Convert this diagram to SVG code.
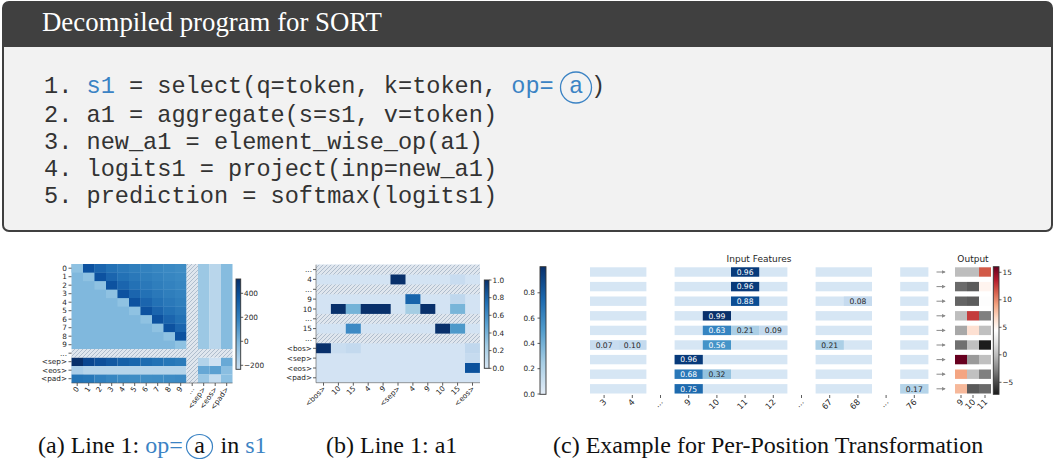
<svg xmlns="http://www.w3.org/2000/svg" width="1055" height="461" viewBox="0 0 1055 461">
<style>
.code{font-family:"Liberation Mono","DejaVu Sans Mono",monospace;font-size:23.6px;fill:#333333;white-space:pre}
.blue{fill:#3b83c4}
.cap{font-family:"Liberation Serif","Times New Roman",serif;font-size:24px;fill:#111111;white-space:pre}
.tk{font-family:"DejaVu Sans",sans-serif;font-size:7.3px;fill:#262626}
.tkc{font-family:"DejaVu Sans",sans-serif;font-size:8.3px;fill:#262626}
.tt{font-family:"DejaVu Sans",sans-serif;font-size:9px;fill:#262626}
.val{font-family:"DejaVu Sans",sans-serif;font-size:7.6px;text-anchor:middle}
.vw{fill:#ffffff}
.vd{fill:#262626}
.tick{stroke:#333333;stroke-width:0.8}
.d1{fill:#0d52a0}.d2{fill:#1b65ae}.d3{fill:#2371b5}.d4{fill:#2a78b9}.d5{fill:#2f7ebc}.d6{fill:#3382bf}.d7{fill:#3786c1}.d8{fill:#3a89c3}.d9{fill:#3e8cc4}
.dg{fill:#8fc2e2}
.base-c{fill:#d6e6f4}
.cbo{fill:none;stroke:#333333;stroke-width:0.9}
</style>
<defs>
<pattern id="hatch" patternUnits="userSpaceOnUse" width="4" height="4">
<rect width="4" height="4" fill="#dfe6ee"/>
<path d="M-1,1 L1,-1 M0,4 L4,0 M3,5 L5,3" stroke="#a3b3c4" stroke-width="0.8"/>
</pattern>
<linearGradient id="gBluesA" x1="0" y1="0" x2="0" y2="1">
<stop offset="0" stop-color="#08306b"/><stop offset="0.2" stop-color="#0b559f"/><stop offset="0.45" stop-color="#3584c1"/><stop offset="0.7" stop-color="#7fb8dd"/><stop offset="1" stop-color="#cadef0"/>
</linearGradient>
<linearGradient id="gBluesB" x1="0" y1="0" x2="0" y2="1">
<stop offset="0" stop-color="#08306b"/><stop offset="0.25" stop-color="#1f6eb3"/><stop offset="0.5" stop-color="#5ba2d1"/><stop offset="0.75" stop-color="#a5cde4"/><stop offset="1" stop-color="#d6e5f3"/>
</linearGradient>
<linearGradient id="gBluesC" x1="0" y1="0" x2="0" y2="1">
<stop offset="0" stop-color="#08306b"/><stop offset="0.25" stop-color="#1b68ae"/><stop offset="0.5" stop-color="#529dcc"/><stop offset="0.75" stop-color="#a6cde4"/><stop offset="1" stop-color="#e4edf7"/>
</linearGradient>
<linearGradient id="gRdGy" x1="0" y1="0" x2="0" y2="1">
<stop offset="0" stop-color="#67001f"/><stop offset="0.1" stop-color="#b2182b"/><stop offset="0.2" stop-color="#d6604d"/><stop offset="0.3" stop-color="#f4a582"/><stop offset="0.4" stop-color="#fddbc7"/><stop offset="0.5" stop-color="#ffffff"/><stop offset="0.6" stop-color="#e0e0e0"/><stop offset="0.7" stop-color="#bababa"/><stop offset="0.8" stop-color="#878787"/><stop offset="0.9" stop-color="#4d4d4d"/><stop offset="1" stop-color="#1a1a1a"/>
</linearGradient>
<marker id="arr" viewBox="0 0 6 6" refX="5" refY="3" markerWidth="4" markerHeight="4" orient="auto">
<path d="M0,0 L6,3 L0,6 z" fill="#8a8a8a"/>
</marker>
</defs>
<rect width="1055" height="461" fill="#ffffff"/>

<g id="code-box">
<rect x="3" y="2" width="1049" height="229" rx="6" fill="#f2f2f2" stroke="#404040" stroke-width="2"/>
<path d="M3,47 L3,8 Q3,2 9,2 L1046,2 Q1052,2 1052,8 L1052,47 Z" fill="#404040"/>
<text x="42" y="31" font-family="'Liberation Serif','Times New Roman',serif" font-size="26.8" fill="#ffffff">Decompiled program for SORT</text>
<text class="code" x="44" y="93">1. <tspan class="blue">s1</tspan> = select(q=token, k=token, <tspan class="blue">op=</tspan></text>
<text class="code blue" x="576" y="93" text-anchor="middle">a</text>
<circle cx="576" cy="87.5" r="15.5" fill="none" stroke="#3b83c4" stroke-width="1.3"/>
<text class="code" x="591" y="93">)</text>
<text class="code" x="44" y="121.5">2. a1 = aggregate(s=s1, v=token)</text>
<text class="code" x="44" y="148.5">3. new_a1 = element_wise_op(a1)</text>
<text class="code" x="44" y="175.5">4. logits1 = project(inp=new_a1)</text>
<text class="code" x="44" y="202.5">5. prediction = softmax(logits1)</text>
</g>

<g id="panel-a">
<rect x="71.5" y="264" width="115" height="85" fill="#80b8dd"/>
<g class="dg">
<rect x="71.5" y="264" width="11.6" height="8.6"/><rect x="83" y="272.5" width="11.6" height="8.6"/><rect x="94.5" y="281" width="11.6" height="8.6"/><rect x="106" y="289.5" width="11.6" height="8.6"/><rect x="117.5" y="298" width="11.6" height="8.6"/><rect x="129" y="306.5" width="11.6" height="8.6"/><rect x="140.5" y="315" width="11.6" height="8.6"/><rect x="152" y="323.5" width="11.6" height="8.6"/><rect x="163.5" y="332" width="11.6" height="8.6"/><rect x="175" y="340.5" width="11.5" height="8.5"/>
</g>
<rect class="d1" x="83" y="264" width="11.6" height="8.6"/><rect class="d2" x="94.5" y="264" width="11.6" height="8.6"/><rect class="d3" x="106" y="264" width="11.6" height="8.6"/><rect class="d4" x="117.5" y="264" width="11.6" height="8.6"/><rect class="d5" x="129" y="264" width="11.6" height="8.6"/><rect class="d6" x="140.5" y="264" width="11.6" height="8.6"/><rect class="d7" x="152" y="264" width="11.6" height="8.6"/><rect class="d8" x="163.5" y="264" width="11.6" height="8.6"/><rect class="d9" x="175" y="264" width="11.5" height="8.6"/>
<rect class="d1" x="94.5" y="272.5" width="11.6" height="8.6"/><rect class="d2" x="106" y="272.5" width="11.6" height="8.6"/><rect class="d3" x="117.5" y="272.5" width="11.6" height="8.6"/><rect class="d4" x="129" y="272.5" width="11.6" height="8.6"/><rect class="d5" x="140.5" y="272.5" width="11.6" height="8.6"/><rect class="d6" x="152" y="272.5" width="11.6" height="8.6"/><rect class="d7" x="163.5" y="272.5" width="11.6" height="8.6"/><rect class="d8" x="175" y="272.5" width="11.5" height="8.6"/>
<rect class="d1" x="106" y="281" width="11.6" height="8.6"/><rect class="d2" x="117.5" y="281" width="11.6" height="8.6"/><rect class="d3" x="129" y="281" width="11.6" height="8.6"/><rect class="d4" x="140.5" y="281" width="11.6" height="8.6"/><rect class="d5" x="152" y="281" width="11.6" height="8.6"/><rect class="d6" x="163.5" y="281" width="11.6" height="8.6"/><rect class="d7" x="175" y="281" width="11.5" height="8.6"/>
<rect class="d1" x="117.5" y="289.5" width="11.6" height="8.6"/><rect class="d2" x="129" y="289.5" width="11.6" height="8.6"/><rect class="d3" x="140.5" y="289.5" width="11.6" height="8.6"/><rect class="d4" x="152" y="289.5" width="11.6" height="8.6"/><rect class="d5" x="163.5" y="289.5" width="11.6" height="8.6"/><rect class="d6" x="175" y="289.5" width="11.5" height="8.6"/>
<rect class="d1" x="129" y="298" width="11.6" height="8.6"/><rect class="d2" x="140.5" y="298" width="11.6" height="8.6"/><rect class="d3" x="152" y="298" width="11.6" height="8.6"/><rect class="d4" x="163.5" y="298" width="11.6" height="8.6"/><rect class="d5" x="175" y="298" width="11.5" height="8.6"/>
<rect class="d1" x="140.5" y="306.5" width="11.6" height="8.6"/><rect class="d2" x="152" y="306.5" width="11.6" height="8.6"/><rect class="d3" x="163.5" y="306.5" width="11.6" height="8.6"/><rect class="d4" x="175" y="306.5" width="11.5" height="8.6"/>
<rect class="d1" x="152" y="315" width="11.6" height="8.6"/><rect class="d2" x="163.5" y="315" width="11.6" height="8.6"/><rect class="d3" x="175" y="315" width="11.5" height="8.6"/>
<rect class="d1" x="163.5" y="323.5" width="11.6" height="8.6"/><rect class="d2" x="175" y="323.5" width="11.5" height="8.6"/>
<rect class="d1" x="175" y="332" width="11.5" height="8.6"/>
<rect x="198" y="264" width="11.6" height="85" fill="#9cc8e4"/>
<rect x="209.5" y="264" width="11.6" height="85" fill="#b9d6eb"/>
<rect x="221" y="264" width="11.5" height="85" fill="#86bcdf"/>
<rect x="71.5" y="357.5" width="11.6" height="8.6" fill="#08306b"/><rect x="83" y="357.5" width="11.6" height="8.6" fill="#0a4690"/><rect x="94.5" y="357.5" width="11.6" height="8.6" fill="#0d4f9a"/><rect x="106" y="357.5" width="11.6" height="8.6" fill="#1158a2"/><rect x="117.5" y="357.5" width="11.6" height="8.6" fill="#1560a8"/><rect x="129" y="357.5" width="11.6" height="8.6" fill="#1966ad"/><rect x="140.5" y="357.5" width="11.6" height="8.6" fill="#1d6cb1"/><rect x="152" y="357.5" width="11.6" height="8.6" fill="#2272b5"/><rect x="163.5" y="357.5" width="11.6" height="8.6" fill="#2677b8"/><rect x="175" y="357.5" width="11.5" height="8.6" fill="#2b7bba"/>
<rect x="198" y="357.5" width="11.6" height="8.6" fill="#b3d3ea"/><rect x="209.5" y="357.5" width="11.6" height="8.6" fill="#cfe1f2"/><rect x="221" y="357.5" width="11.5" height="8.6" fill="#68a9d6"/>
<rect x="71.5" y="366" width="115" height="8.6" fill="#b5d4ea"/><rect x="71.5" y="366" width="11.6" height="8.6" fill="#a9cde8"/>
<rect x="198" y="366" width="11.6" height="8.6" fill="#66a7d5"/><rect x="209.5" y="366" width="11.6" height="8.6" fill="#5ba0d1"/><rect x="221" y="366" width="11.5" height="8.6" fill="#8abee1"/>
<rect x="71.5" y="374.5" width="11.6" height="8.5" fill="#2474b6"/><rect x="83" y="374.5" width="11.6" height="8.5" fill="#2677b8"/><rect x="94.5" y="374.5" width="11.6" height="8.5" fill="#3080be"/><rect x="106" y="374.5" width="11.6" height="8.5" fill="#3786c1"/><rect x="117.5" y="374.5" width="11.6" height="8.5" fill="#3c8bc4"/><rect x="129" y="374.5" width="11.6" height="8.5" fill="#3e8cc4"/><rect x="140.5" y="374.5" width="11.6" height="8.5" fill="#408ec5"/><rect x="152" y="374.5" width="11.6" height="8.5" fill="#3f8dc5"/><rect x="163.5" y="374.5" width="11.6" height="8.5" fill="#3d8bc4"/><rect x="175" y="374.5" width="11.5" height="8.5" fill="#3b89c3"/>
<rect x="198" y="374.5" width="11.6" height="8.5" fill="#9bc7e4"/><rect x="209.5" y="374.5" width="11.6" height="8.5" fill="#c4dcef"/><rect x="221" y="374.5" width="11.5" height="8.5" fill="#8cc0e2"/>
<rect x="186.5" y="264" width="11.5" height="119" fill="url(#hatch)"/>
<rect x="71.5" y="349" width="161" height="8.5" fill="url(#hatch)"/>
<path d="M71.5,383 H232.5" stroke="#555555" stroke-width="0.6"/>
<g class="tick">
<path d="M68.5,268.2H71.5M68.5,276.7H71.5M68.5,285.2H71.5M68.5,293.7H71.5M68.5,302.2H71.5M68.5,310.7H71.5M68.5,319.2H71.5M68.5,327.7H71.5M68.5,336.2H71.5M68.5,344.7H71.5M68.5,353.2H71.5M68.5,361.7H71.5M68.5,370.2H71.5M68.5,378.7H71.5"/>
<path d="M77.2,383V386M88.7,383V386M100.2,383V386M111.7,383V386M123.2,383V386M134.7,383V386M146.2,383V386M157.7,383V386M169.2,383V386M180.7,383V386M192.2,383V386M203.7,383V386M215.2,383V386M226.7,383V386"/>
</g>
<g class="tk" text-anchor="end">
<text x="67" y="270.8">0</text><text x="67" y="279.3">1</text><text x="67" y="287.8">2</text><text x="67" y="296.3">3</text><text x="67" y="304.8">4</text><text x="67" y="313.3">5</text><text x="67" y="321.8">6</text><text x="67" y="330.3">7</text><text x="67" y="338.8">8</text><text x="67" y="347.3">9</text><text x="67" y="355.8">...</text><text x="67" y="364.3">&lt;sep&gt;</text><text x="67" y="372.8">&lt;eos&gt;</text><text x="67" y="381.3">&lt;pad&gt;</text>
</g>
<g class="tk" text-anchor="end" font-size="6.3">
<text transform="translate(79.5,389) rotate(-55)">0</text><text transform="translate(91,389) rotate(-55)">1</text><text transform="translate(102.5,389) rotate(-55)">2</text><text transform="translate(114,389) rotate(-55)">3</text><text transform="translate(125.5,389) rotate(-55)">4</text><text transform="translate(137,389) rotate(-55)">5</text><text transform="translate(148.5,389) rotate(-55)">6</text><text transform="translate(160,389) rotate(-55)">7</text><text transform="translate(171.5,389) rotate(-55)">8</text><text transform="translate(183,389) rotate(-55)">9</text><text transform="translate(194.5,389) rotate(-55)">...</text><text transform="translate(206,389) rotate(-55)">&lt;sep&gt;</text><text transform="translate(217.5,389) rotate(-55)">&lt;eos&gt;</text><text transform="translate(229,389) rotate(-55)">&lt;pad&gt;</text>
</g>
<rect x="236" y="279" width="4.7" height="90.3" fill="url(#gBluesA)"/>
<rect class="cbo" x="236" y="279" width="4.7" height="90.3"/>
<path class="tick" d="M240.7,293.3h2.5M240.7,317.3h2.5M240.7,341.3h2.5M240.7,365.3h2.5"/>
<g class="tk"><text x="244" y="295.9">400</text><text x="244" y="319.9">200</text><text x="244" y="343.9">0</text><text x="244" y="367.9">−200</text></g>
</g>

<g id="panel-b">
<rect x="316" y="264.7" width="164" height="118" fill="#d3e3f3"/>
<rect x="316" y="264.7" width="164" height="9.9" fill="url(#hatch)"/>
<rect x="316" y="284.4" width="164" height="9.9" fill="url(#hatch)"/>
<rect x="316" y="313.9" width="164" height="9.9" fill="url(#hatch)"/>
<rect x="316" y="333.5" width="164" height="9.9" fill="url(#hatch)"/>
<rect x="390.5" y="274.5" width="15" height="9.9" fill="#08306b"/>
<rect x="450.1" y="274.5" width="15" height="9.9" fill="#c8dcf0"/>
<rect x="405.4" y="294.2" width="15" height="9.9" fill="#1764ab"/>
<rect x="450.1" y="294.2" width="15" height="9.9" fill="#bfd7ed"/>
<rect x="330.9" y="304" width="15" height="9.9" fill="#08306b"/>
<rect x="345.8" y="304" width="15" height="9.9" fill="#74b3d8"/>
<rect x="360.7" y="304" width="30" height="9.9" fill="#08306b"/>
<rect x="405.4" y="304" width="15" height="9.9" fill="#a5cde3"/>
<rect x="420.3" y="304" width="15" height="9.9" fill="#08306b"/>
<rect x="450.1" y="304" width="15" height="9.9" fill="#78b5d9"/>
<rect x="345.8" y="323.7" width="15" height="9.9" fill="#3c89c4"/>
<rect x="435.2" y="323.7" width="15" height="9.9" fill="#08306b"/>
<rect x="450.1" y="323.7" width="15" height="9.9" fill="#4d99ca"/>
<rect x="316" y="343.3" width="15" height="9.9" fill="#08306b"/>
<rect x="330.9" y="343.3" width="15" height="9.9" fill="#c9ddf0"/>
<rect x="345.8" y="343.3" width="15" height="9.9" fill="#c3d9ee"/>
<rect x="465" y="343.3" width="14.9" height="9.9" fill="#c0d7ed"/>
<rect x="465" y="353.2" width="14.9" height="9.9" fill="#c6dbef"/>
<rect x="465" y="363" width="14.9" height="9.9" fill="#0b519c"/>
<path d="M316,264.7V382.7H480" fill="none" stroke="#555555" stroke-width="0.6"/>
<g class="tick">
<path d="M313,269.6H316M313,279.4H316M313,289.3H316M313,299.1H316M313,309H316M313,318.8H316M313,328.6H316M313,338.4H316M313,348.3H316M313,358.1H316M313,368H316M313,377.8H316"/>
<path d="M323.5,382.7V385.7M338.4,382.7V385.7M353.3,382.7V385.7M368.2,382.7V385.7M383.1,382.7V385.7M398,382.7V385.7M412.9,382.7V385.7M427.8,382.7V385.7M442.7,382.7V385.7M457.6,382.7V385.7M472.5,382.7V385.7"/>
</g>
<g class="tk" text-anchor="end">
<text x="312" y="272.2">...</text><text x="312" y="282">4</text><text x="312" y="291.9">...</text><text x="312" y="301.7">9</text><text x="312" y="311.6">10</text><text x="312" y="321.4">...</text><text x="312" y="331.2">15</text><text x="312" y="341">...</text><text x="312" y="350.9">&lt;bos&gt;</text><text x="312" y="360.7">&lt;sep&gt;</text><text x="312" y="370.6">&lt;eos&gt;</text><text x="312" y="380.4">&lt;pad&gt;</text>
</g>
<g class="tk" text-anchor="end">
<text transform="translate(326,389) rotate(-45)">&lt;bos&gt;</text><text transform="translate(341,389) rotate(-45)">10</text><text transform="translate(356,389) rotate(-45)">15</text><text transform="translate(371,389) rotate(-45)">4</text><text transform="translate(386,389) rotate(-45)">9</text><text transform="translate(400.5,389) rotate(-45)">&lt;sep&gt;</text><text transform="translate(415.5,389) rotate(-45)">4</text><text transform="translate(430.5,389) rotate(-45)">9</text><text transform="translate(445.5,389) rotate(-45)">10</text><text transform="translate(460.5,389) rotate(-45)">15</text><text transform="translate(475,389) rotate(-45)">&lt;eos&gt;</text>
</g>
<rect x="484.3" y="280" width="4.7" height="88.3" fill="url(#gBluesB)"/>
<rect class="cbo" x="484.3" y="280" width="4.7" height="88.3"/>
<path class="tick" d="M489,280h2.5M489,297.7h2.5M489,315.3h2.5M489,333h2.5M489,350.6h2.5M489,368.3h2.5"/>
<g class="tk"><text x="492.5" y="282.6">1.0</text><text x="492.5" y="300.3">0.8</text><text x="492.5" y="317.9">0.6</text><text x="492.5" y="335.6">0.4</text><text x="492.5" y="353.2">0.2</text><text x="492.5" y="370.9">0.0</text></g>
</g>

<g id="panel-c">
<rect x="540" y="266.7" width="6" height="127.6" fill="url(#gBluesC)"/>
<rect class="cbo" x="540" y="266.7" width="6" height="127.6"/>
<path class="tick" d="M537.5,292.8H540M537.5,318.1H540M537.5,343.4H540M537.5,368.7H540M537.5,394H540"/>
<g class="tk" text-anchor="end"><text x="535" y="295.4">0.8</text><text x="535" y="320.7">0.6</text><text x="535" y="346">0.4</text><text x="535" y="371.3">0.2</text><text x="535" y="396.6">0.0</text></g>
<text class="tt" x="759" y="261.5" text-anchor="middle">Input Features</text>
<text class="tt" x="973" y="261.5" text-anchor="middle">Output</text>
<g class="base-c">
<rect x="590" y="267.3" width="56.4" height="9.4"/><rect x="674.6" y="267.3" width="112.8" height="9.4"/><rect x="815.6" y="267.3" width="56.4" height="9.4"/><rect x="900.2" y="267.3" width="28.2" height="9.4"/>
<rect x="590" y="281.9" width="56.4" height="9.4"/><rect x="674.6" y="281.9" width="112.8" height="9.4"/><rect x="815.6" y="281.9" width="56.4" height="9.4"/><rect x="900.2" y="281.9" width="28.2" height="9.4"/>
<rect x="590" y="296.5" width="56.4" height="9.4"/><rect x="674.6" y="296.5" width="112.8" height="9.4"/><rect x="815.6" y="296.5" width="56.4" height="9.4"/><rect x="900.2" y="296.5" width="28.2" height="9.4"/>
<rect x="590" y="311.1" width="56.4" height="9.4"/><rect x="674.6" y="311.1" width="112.8" height="9.4"/><rect x="815.6" y="311.1" width="56.4" height="9.4"/><rect x="900.2" y="311.1" width="28.2" height="9.4"/>
<rect x="590" y="325.7" width="56.4" height="9.4"/><rect x="674.6" y="325.7" width="112.8" height="9.4"/><rect x="815.6" y="325.7" width="56.4" height="9.4"/><rect x="900.2" y="325.7" width="28.2" height="9.4"/>
<rect x="590" y="340.3" width="56.4" height="9.4"/><rect x="674.6" y="340.3" width="112.8" height="9.4"/><rect x="815.6" y="340.3" width="56.4" height="9.4"/><rect x="900.2" y="340.3" width="28.2" height="9.4"/>
<rect x="590" y="354.9" width="56.4" height="9.4"/><rect x="674.6" y="354.9" width="112.8" height="9.4"/><rect x="815.6" y="354.9" width="56.4" height="9.4"/><rect x="900.2" y="354.9" width="28.2" height="9.4"/>
<rect x="590" y="369.5" width="56.4" height="9.4"/><rect x="674.6" y="369.5" width="112.8" height="9.4"/><rect x="815.6" y="369.5" width="56.4" height="9.4"/><rect x="900.2" y="369.5" width="28.2" height="9.4"/>
<rect x="590" y="384.1" width="56.4" height="9.4"/><rect x="674.6" y="384.1" width="112.8" height="9.4"/><rect x="815.6" y="384.1" width="56.4" height="9.4"/><rect x="900.2" y="384.1" width="28.2" height="9.4"/>
</g>
<rect x="731" y="267.3" width="28.2" height="9.4" fill="#083a7a"/><text class="val vw" x="745.1" y="274.7">0.96</text>
<rect x="731" y="281.9" width="28.2" height="9.4" fill="#083a7a"/><text class="val vw" x="745.1" y="289.3">0.96</text>
<rect x="731" y="296.5" width="28.2" height="9.4" fill="#0b4d94"/><text class="val vw" x="745.1" y="303.9">0.88</text>
<rect x="843.8" y="296.5" width="28.2" height="9.4" fill="#c6dbef"/><text class="val vd" x="857.9" y="303.9">0.08</text>
<rect x="702.8" y="311.1" width="28.2" height="9.4" fill="#08306b"/><text class="val vw" x="716.9" y="318.5">0.99</text>
<rect x="702.8" y="325.7" width="28.2" height="9.4" fill="#3584c1"/><text class="val vw" x="716.9" y="333.1">0.63</text>
<rect x="731" y="325.7" width="28.2" height="9.4" fill="#abcfe6"/><text class="val vd" x="745.1" y="333.1">0.21</text>
<rect x="759.2" y="325.7" width="28.2" height="9.4" fill="#c4daee"/><text class="val vd" x="773.3" y="333.1">0.09</text>
<rect x="590" y="340.3" width="28.2" height="9.4" fill="#c8dcf0"/><text class="val vd" x="604.1" y="347.7">0.07</text>
<rect x="618.2" y="340.3" width="28.2" height="9.4" fill="#c4daee"/><text class="val vd" x="632.3" y="347.7">0.10</text>
<rect x="702.8" y="340.3" width="28.2" height="9.4" fill="#4594c8"/><text class="val vw" x="716.9" y="347.7">0.56</text>
<rect x="815.6" y="340.3" width="28.2" height="9.4" fill="#abcfe6"/><text class="val vd" x="829.7" y="347.7">0.21</text>
<rect x="674.6" y="354.9" width="28.2" height="9.4" fill="#083a7a"/><text class="val vw" x="688.7" y="362.3">0.96</text>
<rect x="674.6" y="369.5" width="28.2" height="9.4" fill="#2a78b8"/><text class="val vw" x="688.7" y="376.9">0.68</text>
<rect x="702.8" y="369.5" width="28.2" height="9.4" fill="#93c2df"/><text class="val vd" x="716.9" y="376.9">0.32</text>
<rect x="674.6" y="384.1" width="28.2" height="9.4" fill="#1d6aae"/><text class="val vw" x="688.7" y="391.5">0.75</text>
<rect x="900.2" y="384.1" width="28.2" height="9.4" fill="#b5d4e9"/><text class="val vd" x="914.3" y="391.5">0.17</text>
<g id="output-cells">
<rect x="955" y="267.3" width="12.1" height="9.4" fill="#bdbdbd"/><rect x="967" y="267.3" width="12.1" height="9.4" fill="#bdbdbd"/><rect x="979" y="267.3" width="12" height="9.4" fill="#d25a48"/>
<rect x="955" y="281.9" width="12.1" height="9.4" fill="#6a6a6a"/><rect x="967" y="281.9" width="12.1" height="9.4" fill="#5a5a5a"/><rect x="979" y="281.9" width="12" height="9.4" fill="#fff4ef"/>
<rect x="955" y="296.5" width="12.1" height="9.4" fill="#646464"/><rect x="967" y="296.5" width="12.1" height="9.4" fill="#5c5c5c"/><rect x="979" y="296.5" width="12" height="9.4" fill="#fdfdfd"/>
<rect x="955" y="311.1" width="12.1" height="9.4" fill="#bebebe"/><rect x="967" y="311.1" width="12.1" height="9.4" fill="#c43c3c"/><rect x="979" y="311.1" width="12" height="9.4" fill="#808080"/>
<rect x="955" y="325.7" width="12.1" height="9.4" fill="#a8a8a8"/><rect x="967" y="325.7" width="12.1" height="9.4" fill="#fde0d2"/><rect x="979" y="325.7" width="12" height="9.4" fill="#c0c0c0"/>
<rect x="955" y="340.3" width="12.1" height="9.4" fill="#707070"/><rect x="967" y="340.3" width="12.1" height="9.4" fill="#c0c0c0"/><rect x="979" y="340.3" width="12" height="9.4" fill="#1c1c1c"/>
<rect x="955" y="354.9" width="12.1" height="9.4" fill="#67001f"/><rect x="967" y="354.9" width="12.1" height="9.4" fill="#9a9a9a"/><rect x="979" y="354.9" width="12" height="9.4" fill="#c0c0c0"/>
<rect x="955" y="369.5" width="12.1" height="9.4" fill="#f4a582"/><rect x="967" y="369.5" width="12.1" height="9.4" fill="#c0c0c0"/><rect x="979" y="369.5" width="12" height="9.4" fill="#808080"/>
<rect x="955" y="384.1" width="12.1" height="9.4" fill="#f6b89a"/><rect x="967" y="384.1" width="12.1" height="9.4" fill="#5a5a5a"/><rect x="979" y="384.1" width="12" height="9.4" fill="#6a6a6a"/>
</g>
<rect x="993.3" y="266.7" width="5.7" height="127.6" fill="url(#gRdGy)"/>
<rect class="cbo" x="993.3" y="266.7" width="5.7" height="127.6"/>
<path class="tick" d="M999,272.3h2.5M999,299.8h2.5M999,327.3h2.5M999,354.8h2.5M999,382.3h2.5"/>
<g class="tk"><text x="1002.5" y="274.9">15</text><text x="1002.5" y="302.4">10</text><text x="1002.5" y="329.9">5</text><text x="1002.5" y="357.4">0</text><text x="1002.5" y="384.9">−5</text></g>
<path class="tick" d="M604.1,395V398M632.3,395V398M660.5,395V398M688.7,395V398M716.9,395V398M745.1,395V398M773.3,395V398M801.5,395V398M829.7,395V398M857.9,395V398M886.1,395V398M914.3,395V398M961,395V398M973,395V398M985,395V398"/>
<g class="tkc" text-anchor="end">
<text transform="translate(607,402.5) rotate(-45)">3</text><text transform="translate(635.2,402.5) rotate(-45)">4</text><text transform="translate(663.4,402.5) rotate(-45)">...</text><text transform="translate(691.6,402.5) rotate(-45)">9</text><text transform="translate(719.8,402.5) rotate(-45)">10</text><text transform="translate(748,402.5) rotate(-45)">11</text><text transform="translate(776.2,402.5) rotate(-45)">12</text><text transform="translate(804.4,402.5) rotate(-45)">...</text><text transform="translate(832.6,402.5) rotate(-45)">67</text><text transform="translate(860.8,402.5) rotate(-45)">68</text><text transform="translate(889,402.5) rotate(-45)">...</text><text transform="translate(917.2,402.5) rotate(-45)">76</text>
<text transform="translate(963.9,402.5) rotate(-45)">9</text><text transform="translate(975.9,402.5) rotate(-45)">10</text><text transform="translate(987.9,402.5) rotate(-45)">11</text>
</g>
</g>

<g id="connectors" stroke="#8a8a8a" stroke-width="1" marker-end="url(#arr)">
<line x1="936.5" y1="272" x2="945" y2="272"/>
<line x1="936.5" y1="286.6" x2="945" y2="286.6"/>
<line x1="936.5" y1="301.2" x2="945" y2="301.2"/>
<line x1="936.5" y1="315.8" x2="945" y2="315.8"/>
<line x1="936.5" y1="330.4" x2="945" y2="330.4"/>
<line x1="936.5" y1="345" x2="945" y2="345"/>
<line x1="936.5" y1="359.6" x2="945" y2="359.6"/>
<line x1="936.5" y1="374.2" x2="945" y2="374.2"/>
<line x1="936.5" y1="388.8" x2="945" y2="388.8"/>
</g>

<g id="captions">
<text class="cap" x="38" y="453">(a) Line 1: <tspan class="blue">op=</tspan></text>
<text class="cap blue" x="199.5" y="453" text-anchor="middle">a</text>
<ellipse cx="199.5" cy="446.5" rx="13" ry="12" fill="none" stroke="#3b83c4" stroke-width="1.2"/>
<text class="cap" x="214.5" y="453"> in <tspan class="blue">s1</tspan></text>
<text class="cap" x="326" y="453">(b) Line 1: a1</text>
<text class="cap" x="553" y="453">(c) Example for Per-Position Transformation</text>
</g>
</svg>
